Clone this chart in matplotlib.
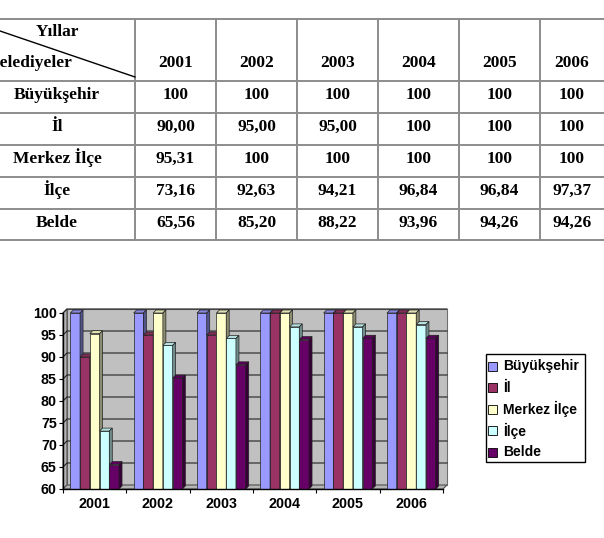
import numpy as np
import matplotlib
matplotlib.use('Agg')
import matplotlib.pyplot as plt
from matplotlib.patches import Polygon, Rectangle
from matplotlib.colors import to_rgb

plt.rcParams['font.family'] = ['Liberation Sans', 'DejaVu Sans']

# data
years = ['2001', '2002', '2003', '2004', '2005', '2006']
series = ['Büyükşehir', 'İl', 'Merkez İlçe', 'İlçe', 'Belde']
buyuksehir = [100, 100, 100, 100, 100, 100]
il = [90.00, 95.00, 95.00, 100, 100, 100]
merkez_ilce = [95.31, 100, 100, 100, 100, 100]
ilce = [73.16, 92.63, 94.21, 96.84, 96.84, 97.37]
belde = [65.56, 85.20, 88.22, 93.96, 94.26, 94.26]
values = [buyuksehir, il, merkez_ilce, ilce, belde]
colors = ['#9999FF', '#993366', '#FFFFCC', '#CCFFFF', '#660066']
yticks = [60, 65, 70, 75, 80, 85, 90, 95, 100]

fig = plt.figure(figsize=(6.04, 5.38), dpi=100)

# ---- table (pixel coords) ----
tb = fig.add_axes([0, 0, 1, 1])
tb.set_xlim(0, 604)
tb.set_ylim(538, 0)
tb.axis('off')

line_c = '#8c8c8c'
row_lines = [19, 81, 113, 145, 177, 209, 240]
col_lines = [135, 216, 297, 378, 459, 540]
col_centers = [175.5, 256.5, 337.5, 418.5, 499.5, 572]
for y in row_lines:
    tb.plot([0, 604], [y, y], color=line_c, lw=1.4)
for x in col_lines:
    tb.plot([x, x], [19, 240], color=line_c, lw=1.4)
tb.plot([0, 135], [31, 77], color='black', lw=1.0)

serif = dict(family='Liberation Serif', fontweight='bold', fontsize=12.5)
tb.text(57, 36, 'Yıllar', ha='center', va='baseline', **serif)
# the reference crops this label at the left edge
tb.text(72, 67, 'Belediyeler', ha='right', va='baseline', **serif)
for x, yr in zip(col_centers, years):
    tb.text(x, 67, yr, ha='center', va='baseline', **serif)


def fmt(v):
    return '100' if v == 100 else f'{v:.2f}'.replace('.', ',')


for r, (name, vals) in enumerate(zip(series, values)):
    base = row_lines[r + 1] + 18
    tb.text(57, base, name, ha='center', va='baseline', **serif)
    for x, v in zip(col_centers, vals):
        tb.text(x, base, fmt(v), ha='center', va='baseline', **serif)

# ---- 3D-look column chart ----
ax = fig.add_axes([63 / 604, (538 - 489) / 538, 380 / 604, 176 / 538])
ax.set_zorder(2)
ax.patch.set_visible(False)
ax.set_xlim(0, 6)
ax.set_ylim(60, 100)

wx, wy = 4 * 6 / 380, 4 * 40 / 176     # wall depth
bx, by = 3 * 6 / 380, 3 * 40 / 176     # bar depth
wall = '#C0C0C0'

ax.add_patch(Polygon([(wx, 60 + wy), (6 + wx, 60 + wy), (6 + wx, 100 + wy), (wx, 100 + wy)],
                     facecolor=wall, edgecolor='#707070', lw=0.8, clip_on=False, zorder=0))
ax.add_patch(Polygon([(0, 60), (wx, 60 + wy), (wx, 100 + wy), (0, 100)],
                     facecolor='#B4B4B4', edgecolor='#505050', lw=0.8, clip_on=False, zorder=0))
ax.add_patch(Polygon([(0, 60), (6, 60), (6 + wx, 60 + wy), (wx, 60 + wy)],
                     facecolor='#B4B4B4', edgecolor='#505050', lw=0.8, clip_on=False, zorder=0))
for y in yticks[1:]:
    ax.plot([0, wx, 6 + wx], [y, y + wy, y + wy], color='#222222', lw=0.8,
            clip_on=False, zorder=1)

n = len(series)
w = 1 / (n + 1.5)
left = (1 - n * w) / 2
x = np.arange(len(years))
for i, (vals, c) in enumerate(zip(values, colors)):
    z = 3 + i
    x0 = x + left + i * w
    ax.bar(x0, np.array(vals) - 60, bottom=60, width=w, align='edge', color=c,
           edgecolor='#202020', lw=0.5, zorder=z, clip_on=False)
    rgb = np.array(to_rgb(c))
    for xs, v in zip(x0, vals):
        ax.add_patch(Polygon([(xs, v), (xs + w, v), (xs + w + bx, v + by), (xs + bx, v + by)],
                             facecolor=rgb * 0.88, edgecolor='#202020', lw=0.5,
                             clip_on=False, zorder=z))
        ax.add_patch(Polygon([(xs + w, 60), (xs + w + bx, 60 + by), (xs + w + bx, v + by), (xs + w, v)],
                             facecolor=rgb * 0.55, edgecolor='#202020', lw=0.5,
                             clip_on=False, zorder=z))

for s in ['top', 'right']:
    ax.spines[s].set_visible(False)
for s in ['left', 'bottom']:
    ax.spines[s].set_color('black')
    ax.spines[s].set_linewidth(1.0)
    ax.spines[s].set_zorder(10)

ax.set_yticks(yticks)
ax.set_yticklabels([str(t) for t in yticks], fontsize=10.3, fontweight='bold')
ax.tick_params(axis='y', direction='out', length=3, width=0.8, pad=1.5)
ax.set_xticks(x + 0.5)
ax.set_xticklabels(years, fontsize=10.3, fontweight='bold')
ax.set_xticks(np.arange(len(years) + 1), minor=True)
ax.tick_params(axis='x', which='major', length=0, pad=5.5)
ax.tick_params(axis='x', which='minor', direction='out', length=3, width=0.8)

# legend
tb.add_patch(Rectangle((486, 354), 99, 108, facecolor='white', edgecolor='black', lw=1.0))
for k, (name, c) in enumerate(zip(series, colors)):
    yc = 366 + k * 21.5
    tb.add_patch(Rectangle((488, yc - 4.5), 9, 9, facecolor=c, edgecolor='black', lw=0.6))
    tb.text(503, yc, name, ha='left', va='center', fontsize=10, fontweight='bold')

fig.savefig('out.png', dpi=100)
